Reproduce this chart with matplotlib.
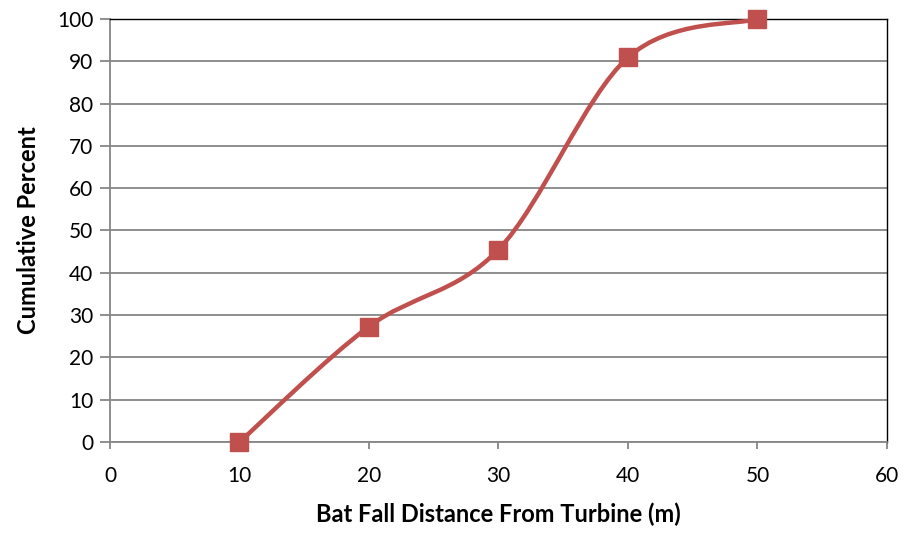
import numpy as np
import matplotlib
matplotlib.use("Agg")
import matplotlib.pyplot as plt
from matplotlib.path import Path
from matplotlib.patches import PathPatch

plt.rcParams['font.family'] = ['Lato', 'DejaVu Sans']

distance = [10, 20, 30, 40, 50]
cum_pct = [0, 27.3, 45.5, 90.9, 100]
x_ticks = [0, 10, 20, 30, 40, 50, 60]
y_ticks = [0, 10, 20, 30, 40, 50, 60, 70, 80, 90, 100]

RED = "#C0504D"
GRID = "#868686"


def smooth_path(xs, ys):
    # Excel-like smoothed line: cubic Bezier segments, tension 1/6
    pts = np.column_stack([xs, ys]).astype(float)
    n = len(pts)
    verts = [pts[0]]
    codes = [Path.MOVETO]
    for i in range(n - 1):
        p0 = pts[i - 1] if i > 0 else pts[i]
        p1, p2 = pts[i], pts[i + 1]
        p3 = pts[i + 2] if i + 2 < n else pts[i + 1]
        c1 = p1 + (p2 - p0) / 6
        c2 = p2 - (p3 - p1) / 6
        verts += [c1, c2, p2]
        codes += [Path.CURVE4] * 3
    return Path(verts, codes)


fig = plt.figure(figsize=(9.06, 5.33), dpi=100)
ax = fig.add_axes([0.1214, 0.1707, 0.8576, 0.7937])

ax.add_patch(PathPatch(smooth_path(distance, cum_pct), fill=False,
                       edgecolor=RED, lw=3.2, capstyle="round", zorder=3))
ax.plot(distance, cum_pct, ls="none", marker="s", ms=13, color=RED,
        mec=RED, zorder=4, clip_on=False)

ax.set_xlim(0, 60)
ax.set_ylim(0, 100)
ax.set_xticks(x_ticks)
ax.set_yticks(y_ticks)
ax.grid(axis="y", color=GRID, lw=1.3)
ax.set_axisbelow(True)

for s in ["left", "bottom"]:
    ax.spines[s].set_color(GRID)
    ax.spines[s].set_linewidth(1.3)
for s in ["top", "right"]:
    ax.spines[s].set_color("black")
    ax.spines[s].set_linewidth(1.0)

ax.tick_params(axis="y", length=7, width=1.3, color=GRID, labelsize=15, pad=5)
ax.tick_params(axis="x", length=5, width=1.3, color=GRID, labelsize=15, pad=12)

ax.set_xlabel("Bat Fall Distance From Turbine (m)", fontsize=17,
              fontweight="bold", labelpad=12)
ax.set_ylabel("Cumulative Percent", fontsize=17, fontweight="bold",
              labelpad=12)

fig.savefig("out.png", dpi=100)
